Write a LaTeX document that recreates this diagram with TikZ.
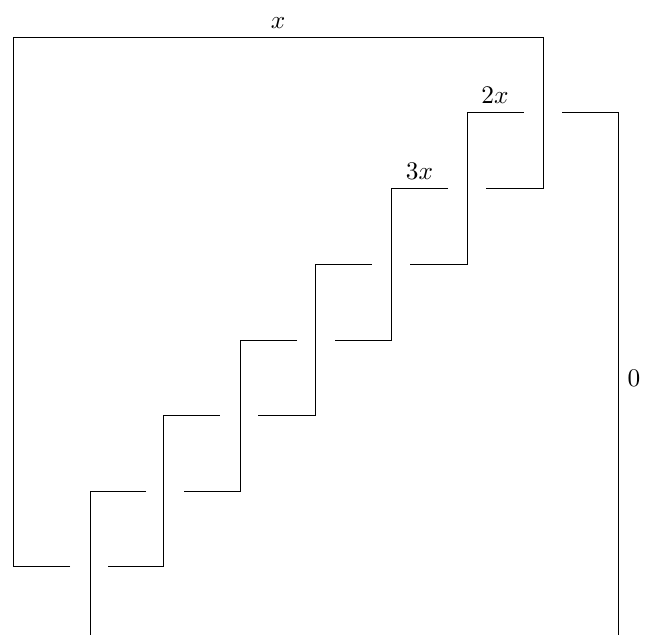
\documentclass[tikz,border=0pt]{standalone}
\tikzset{wire/.style={draw=black,line width=0.75pt,line join=miter},lab/.style={inner sep=0pt,scale=1.9}}
\begin{document}
\begin{tikzpicture}[x=0.75pt,y=-0.75pt]
\useasboundingbox (0,0) rectangle (645,638);
\coordinate (a1) at (70,566); \coordinate (a2) at (13,566); \coordinate (a3) at (13,38); \coordinate (a4) at (543,38); \coordinate (a5) at (543,188); \coordinate (a6) at (486,188);
\coordinate (b1) at (448,188); \coordinate (b2) at (391,188); \coordinate (b3) at (391,340); \coordinate (b4) at (335,340);
\coordinate (c1) at (297,340); \coordinate (c2) at (240,340); \coordinate (c3) at (240,491); \coordinate (c4) at (184,491);
\coordinate (d1) at (146,491); \coordinate (d2) at (90,491); \coordinate (d3) at (90,635);
\coordinate (e1) at (108,566); \coordinate (e2) at (163,566); \coordinate (e3) at (163,415); \coordinate (e4) at (220,415);
\coordinate (f1) at (258,415); \coordinate (f2) at (315,415); \coordinate (f3) at (315,264); \coordinate (f4) at (372,264);
\coordinate (g1) at (410,264); \coordinate (g2) at (467,264); \coordinate (g3) at (467,113); \coordinate (g4) at (524,113);
\coordinate (h1) at (562,113); \coordinate (h2) at (618,113); \coordinate (h3) at (618,635);
\draw[wire] (a1) -- (a2) -- (a3) -- (a4) -- (a5) -- (a6);
\draw[wire] (b1) -- (b2) -- (b3) -- (b4);
\draw[wire] (c1) -- (c2) -- (c3) -- (c4);
\draw[wire] (d1) -- (d2) -- (d3);
\draw[wire] (e1) -- (e2) -- (e3) -- (e4);
\draw[wire] (f1) -- (f2) -- (f3) -- (f4);
\draw[wire] (g1) -- (g2) -- (g3) -- (g4);
\draw[wire] (h1) -- (h2) -- (h3);
\node[lab] (lx) at (278,23) {$x$};
\node[lab] (l2) at (495,95) {$2x$};
\node[lab] (l3) at (419.5,171) {$3x$};
\node[lab] (l0) at (634,378) {$0$};
\end{tikzpicture}
\end{document}
